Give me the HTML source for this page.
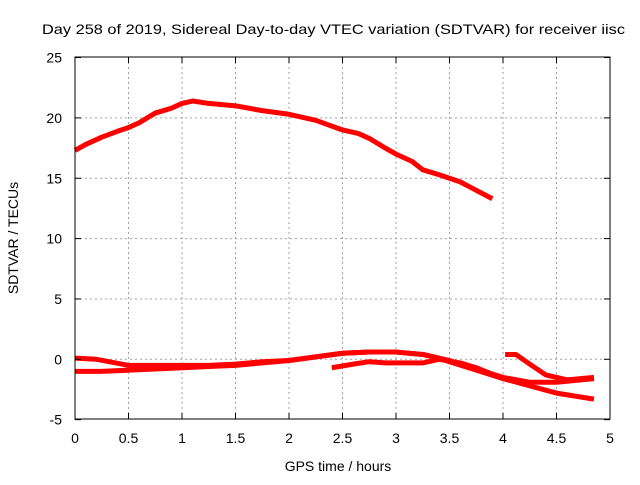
<!DOCTYPE html>
<html><head><meta charset="utf-8"><style>
body{margin:0;background:#fff}
svg text{font-family:"Liberation Sans",sans-serif;font-size:14px;fill:#000}
</style></head><body>
<svg id="c" width="640" height="480">
<text x="42" y="34" textLength="583" lengthAdjust="spacingAndGlyphs">Day 258 of 2019, Sidereal Day-to-day VTEC variation (SDTVAR) for receiver iisc</text>
<g id="grid"></g><g id="series"></g>
<rect x="75" y="57" width="535" height="362" fill="none" stroke="#000" stroke-width="1"/>
<g id="ticks"></g>
<text x="338" y="471" text-anchor="middle">GPS time / hours</text>
<text transform="translate(18,238) rotate(-90)" text-anchor="middle">SDTVAR / TECUs</text>
</svg>
<script>
const xTicks=[0,0.5,1,1.5,2,2.5,3,3.5,4,4.5,5];
const xTickLabels=["0","0.5","1","1.5","2","2.5","3","3.5","4","4.5","5"];
const yTicks=[-5,0,5,10,15,20,25];
const yTickLabels=["-5","0","5","10","15","20","25"];
const s1x=[0,0.1,0.25,0.4,0.5,0.6,0.75,0.9,1.0,1.1,1.25,1.5,1.75,2.0,2.25,2.5,2.65,2.75,2.9,3.0,3.15,3.25,3.4,3.6,3.75,3.9];
const s1y=[17.3,17.8,18.4,18.9,19.2,19.6,20.4,20.8,21.2,21.4,21.2,21.0,20.6,20.3,19.8,19.0,18.7,18.3,17.5,17.0,16.4,15.7,15.3,14.7,14.0,13.3];
const s2x=[0,0.2,0.5,0.75,1.0,1.25,1.5,1.75,2.0,2.25,2.5,2.75,3.0,3.25,3.5,3.75,4.0,4.25,4.5,4.85];
const s2y=[0.1,0,-0.5,-0.5,-0.5,-0.5,-0.4,-0.2,-0.1,0.2,0.5,0.6,0.6,0.4,-0.1,-0.8,-1.5,-1.9,-1.9,-1.6];
const s3x=[0,0.25,0.5,0.75,1.0,1.25,1.5,1.75,2.0,2.25,2.5,2.75,3.0,3.25,3.4,3.5,3.75,4.0,4.25];
const s3y=[-1.0,-1.0,-0.9,-0.8,-0.7,-0.6,-0.5,-0.3,-0.1,0.2,0.5,0.6,0.6,0.4,0.1,-0.2,-0.9,-1.6,-2.0];
const s4x=[2.4,2.6,2.75,2.9,3.0,3.25,3.4,3.6,3.75,4.0,4.25,4.5,4.85];
const s4y=[-0.7,-0.4,-0.2,-0.3,-0.3,-0.3,0.0,-0.3,-0.7,-1.6,-2.2,-2.8,-3.3];
const s5x=[4.02,4.12,4.25,4.4,4.6,4.85];
const s5y=[0.4,0.4,-0.4,-1.3,-1.7,-1.5];
const X=v=>75+v*107, Y=v=>359.3-v*12.07;
const NS="http://www.w3.org/2000/svg";
const grid=document.getElementById('grid'),ticks=document.getElementById('ticks'),ser=document.getElementById('series');
function mk(t,a,p){const e=document.createElementNS(NS,t);for(const k in a)e.setAttribute(k,a[k]);p.appendChild(e);return e;}
xTicks.forEach((v,i)=>{
 if(i>0&&i<xTicks.length-1){const g=mk('line',{x1:X(v),x2:X(v),y1:57,y2:419,stroke:'#a0a0a0','stroke-dasharray':'2,3'},grid);
 
 }
 const t1=mk('line',{x1:X(v),x2:X(v),y1:419,y2:413,stroke:'#000'},ticks);
 
 
 const t2=mk('line',{x1:X(v),x2:X(v),y1:57,y2:63,stroke:'#000'},ticks);
 
 
 const l=mk('text',{x:X(v),y:443,'text-anchor':'middle'},ticks);l.textContent=xTickLabels[i];
 
 
});
yTicks.forEach((v,i)=>{
 if(i>0&&i<yTicks.length-1){const g=mk('line',{x1:75,x2:610,y1:Y(v),y2:Y(v),stroke:'#a0a0a0','stroke-dasharray':'2,3'},grid);
 
 }
 const t1=mk('line',{x1:75,x2:81,y1:Y(v),y2:Y(v),stroke:'#000'},ticks);
 
 
 const t2=mk('line',{x1:604,x2:610,y1:Y(v),y2:Y(v),stroke:'#000'},ticks);
 
 
 const l=mk('text',{x:62,y:Y(v)+5,'text-anchor':'end'},ticks);l.textContent=yTickLabels[i];
 
 
});
[[s1x,s1y],[s2x,s2y],[s3x,s3y],[s4x,s4y],[s5x,s5y]].forEach((s,i)=>{
 const pts=s[0].map((x,j)=>X(x)+','+Y(s[1][j])).join(' ');
 const p=mk('polyline',{points:pts,fill:'none',stroke:'#f00','stroke-width':5,'stroke-linejoin':'round'},ser);
 
 
});
</script>
</body></html>
